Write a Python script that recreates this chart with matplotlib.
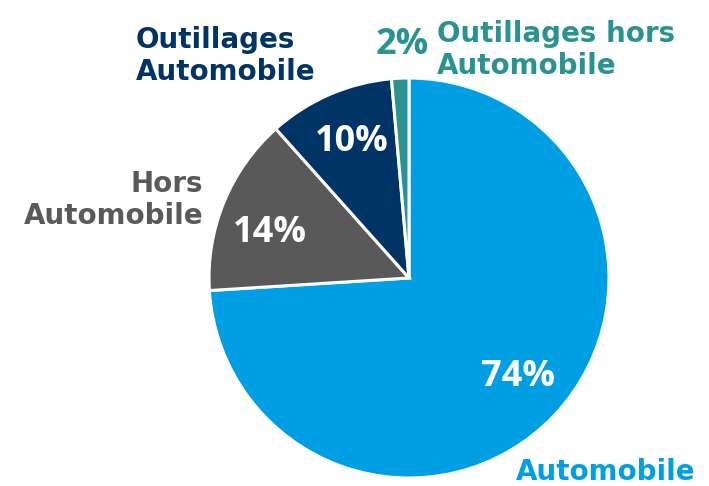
import matplotlib
matplotlib.use("Agg")
import matplotlib.pyplot as plt

# Répartition
categories = ["Automobile", "Hors\nAutomobile", "Outillages\nAutomobile", "Outillages hors\nAutomobile"]
valeurs = [74.0, 14.4, 10.2, 1.4]
etiquettes_pct = ["74%", "14%", "10%", "2%"]
couleurs = ["#009FE3", "#595959", "#003366", "#2A9391"]

# conversion pixels -> coordonnées (centre 409,278 ; rayon 200 px)
def px(x, y):
    return (x - 409) / 200, (278 - y) / 200

fig = plt.figure(figsize=(7.09, 4.86), dpi=100)
ax = fig.add_axes([0, 0, 1, 1])
ax.pie(valeurs, colors=couleurs, startangle=90, counterclock=False,
       wedgeprops={"edgecolor": "white", "linewidth": 2.2})
ax.set_xlim(-2.045, 1.5)
ax.set_ylim(-1.04, 1.39)
ax.set_aspect("auto")
ax.axis("off")

pct_font = dict(family="Open Sans", fontweight="bold", fontsize=26)
lab_font = dict(family="DejaVu Sans", fontweight="bold", fontsize=20, linespacing=1.15)

# pourcentages
ax.text(*px(518, 377), etiquettes_pct[0], color="white", ha="center", va="center", **pct_font)
ax.text(*px(270, 233), etiquettes_pct[1], color="white", ha="center", va="center", **pct_font)
ax.text(*px(352, 142), etiquettes_pct[2], color="white", ha="center", va="center", **pct_font)
ax.text(*px(402, 45), etiquettes_pct[3], color=couleurs[3], ha="center", va="center", **pct_font)

# catégories
ax.text(*px(606, 472), categories[0], color=couleurs[0], ha="center", va="center", **lab_font)
ax.text(*px(203, 200), categories[1], color=couleurs[1], ha="right", va="center", multialignment="right", **lab_font)
ax.text(*px(136, 56), categories[2], color=couleurs[2], ha="left", va="center", multialignment="left", **lab_font)
ax.text(*px(437, 50), categories[3], color=couleurs[3], ha="left", va="center", multialignment="left", **lab_font)

fig.savefig("out.png", dpi=100)
